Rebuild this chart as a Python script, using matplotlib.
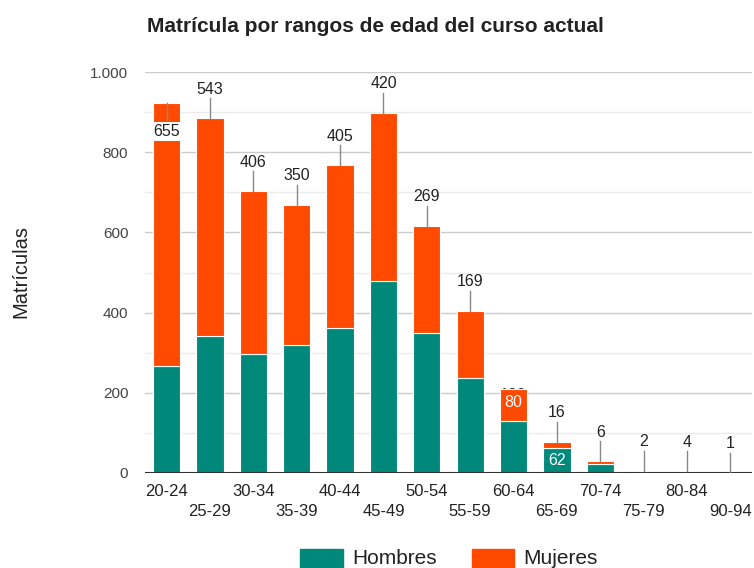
import matplotlib
matplotlib.use("Agg")
import matplotlib.pyplot as plt
import numpy as np
from matplotlib.patches import Rectangle

categories = ["20-24", "25-29", "30-34", "35-39", "40-44", "45-49", "50-54",
              "55-59", "60-64", "65-69", "70-74", "75-79", "80-84", "90-94"]
hombres = [267, 342, 296, 319, 362, 478, 348, 236, 130, 62, 23, 3, 4, 1]
mujeres = [655, 543, 406, 350, 405, 420, 269, 169, 80, 16, 6, 2, 0, 0]
# visible annotation texts above bars
labels_top = ["655", "543", "406", "350", "405", "420", "269", "169", "130", "16", "6", "2", "4", "1"]
y_ticks = [0, 200, 400, 600, 800, 1000]
y_tick_labels = ["0", "200", "400", "600", "800", "1.000"]

TEAL = "#00897b"
ORANGE = "#ff4a00"

plt.rcParams['font.family'] = ['Liberation Sans', 'DejaVu Sans']

fig = plt.figure(figsize=(7.54, 5.68), dpi=100)
W, H = 754, 568
ax = fig.add_axes([145 / W, 1 - 473 / H, (752 - 145) / W, (473 - 72) / H])

x = np.arange(len(categories))
bw = 0.63
ax.bar(x, hombres, bw, color=TEAL, edgecolor="white", linewidth=0.8, zorder=3)
ax.bar(x, mujeres, bw, bottom=hombres, color=ORANGE, edgecolor="white", linewidth=0.8, zorder=3)

ax.set_xlim(-0.5, len(categories) - 0.5)
ax.set_ylim(0, 1000)

# gridlines
for v in range(100, 1001, 100):
    if v % 200 == 0:
        ax.axhline(v, color="#cccccc", lw=1, zorder=1)
    else:
        ax.axhline(v, color="#ebebeb", lw=1, zorder=1)
ax.axhline(0, color="#333333", lw=1.5, zorder=5)

ax.set_yticks(y_ticks)
ax.set_yticklabels(y_tick_labels, fontsize=11, color="#444444")
ax.tick_params(axis="y", length=0, pad=12)
ax.set_xticks([])
for s in ax.spines.values():
    s.set_visible(False)

px = 1000 / (473 - 72)  # data units per pixel

# x labels in two staggered rows
for i, c in enumerate(categories):
    yy = -19 * px if i % 2 == 0 else -39 * px
    ax.text(i, yy, c, ha="center", va="center", fontsize=12, color="#222222", clip_on=False)

totals = [h + m for h, m in zip(hombres, mujeres)]
stem = 20 * px
for i, t in enumerate(totals):
    lab = labels_top[i]
    if i == 0:
        # label pushed inside the bar top with white background
        ax.plot([i, i], [t, t - 17 * px], color="#888888", lw=1, zorder=6)
        ax.text(i, t - 28 * px, lab, ha="center", va="center", fontsize=11.5, color="#222222",
                zorder=7, bbox=dict(boxstyle="square,pad=0.12", fc="white", ec="none"))
    elif i == 8:
        # mostly hidden behind the bar
        ax.text(i, t - 7 * px, lab, ha="center", va="center", fontsize=11.5, color="#222222", zorder=2)
    else:
        ax.plot([i, i], [t, t + stem], color="#888888", lw=1, zorder=6)
        ax.text(i, t + stem + 9 * px, lab, ha="center", va="center", fontsize=11.5, color="#222222", zorder=7)

# inner labels
ax.text(8, hombres[8] + mujeres[8] / 2 + 2 * px, str(mujeres[8]), ha="center", va="center",
        fontsize=11.5, color="white", zorder=7)
ax.text(9, hombres[9] / 2, str(hombres[9]), ha="center", va="center",
        fontsize=11.5, color="white", zorder=7)

# title and y label
fig.text(147 / W, 1 - 32 / H, "Matrícula por rangos de edad del curso actual",
         fontsize=15, fontweight="bold", color="#222222", ha="left", va="baseline")
fig.text(21 / W, 1 - 272 / H, "Matrículas", rotation=90, fontsize=14.5, color="#222222",
         ha="center", va="center")

# legend
fig.patches.append(Rectangle((300 / W, 0), 43 / W, 19 / H, transform=fig.transFigure,
                             color=TEAL, figure=fig))
fig.text(352 / W, 1 - 558 / H, "Hombres", fontsize=15, color="#222222", ha="left", va="center")
fig.patches.append(Rectangle((472 / W, 0), 42 / W, 19 / H, transform=fig.transFigure,
                             color=ORANGE, figure=fig))
fig.text(523 / W, 1 - 558 / H, "Mujeres", fontsize=15, color="#222222", ha="left", va="center")

fig.savefig("out.png", dpi=100)
